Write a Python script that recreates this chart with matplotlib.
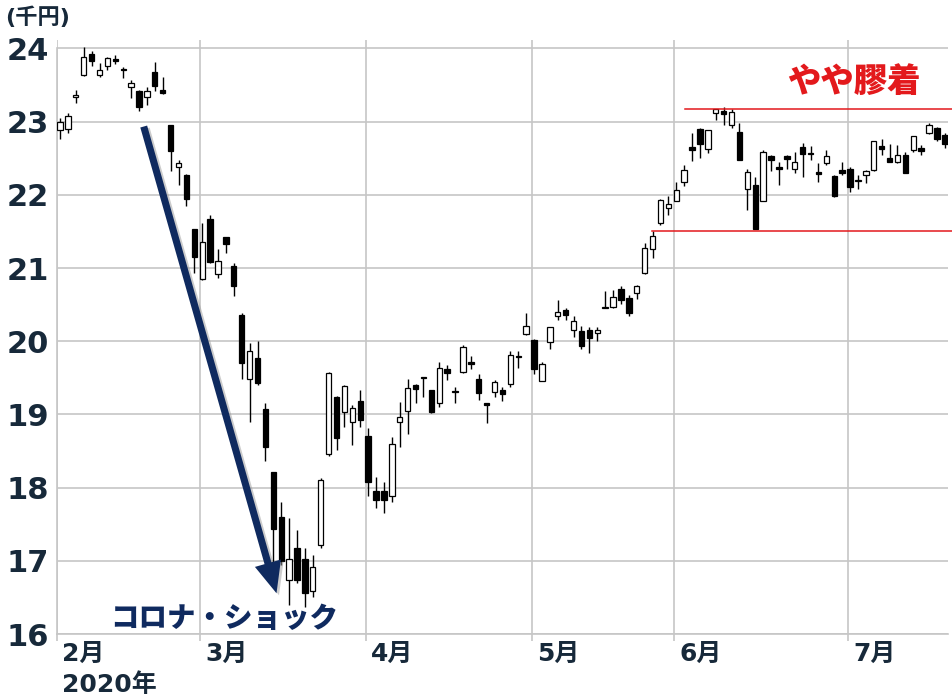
import matplotlib
matplotlib.use("Agg")
import matplotlib.pyplot as plt
from matplotlib.patches import FancyArrowPatch
from matplotlib.transforms import offset_copy
import numpy as np
import pandas as pd

plt.rcParams['font.family'] = ['DejaVu Sans', 'Noto Sans CJK JP']

# Japanese trading days, 2020-02-03 .. 2020-07-17
holidays = ['2020-02-11', '2020-02-24', '2020-03-20', '2020-04-29',
            '2020-05-04', '2020-05-05', '2020-05-06']
dates = pd.bdate_range('2020-02-03', '2020-07-17', freq='C', holidays=holidays)

# prices in thousand yen
opens = [22.88, 22.90, 23.34, 23.64, 23.92, 23.64, 23.76, 23.85, 23.72, 23.48,
         23.42, 23.34, 23.68, 23.43, 22.95, 22.38, 22.27, 21.53, 20.85, 21.67,
         20.92, 21.42, 21.03, 20.36, 19.49, 19.77, 19.08, 18.21, 17.60, 16.74,
         17.17, 17.02, 16.59, 17.22, 18.46, 19.24, 19.04, 18.89, 19.19, 18.71,
         17.95, 17.95, 17.88, 18.89, 19.05, 19.40, 19.51, 19.33, 19.16, 19.62,
         19.32, 19.58, 19.71, 19.49, 19.15, 19.31, 19.34, 19.42, 19.80, 20.10,
         20.02, 19.46, 19.99, 20.34, 20.43, 20.15, 20.14, 20.16, 20.11, 20.46,
         20.47, 20.71, 20.59, 20.66, 20.93, 21.26, 21.62, 21.82, 21.92, 22.18,
         22.66, 22.90, 22.62, 23.12, 23.15, 22.96, 22.86, 22.08, 22.14, 21.91,
         22.53, 22.38, 22.53, 22.35, 22.65, 22.57, 22.31, 22.43, 22.26, 22.34,
         22.36, 22.19, 22.27, 22.34, 22.67, 22.50, 22.45, 22.55, 22.61, 22.64,
         22.84, 22.91, 22.82]
highs = [23.05, 23.12, 23.43, 24.02, 23.96, 23.80, 23.89, 23.91, 23.75, 23.57,
         23.43, 23.48, 23.82, 23.61, 22.96, 22.48, 22.29, 21.54, 21.61, 21.73,
         21.26, 21.43, 21.07, 20.38, 19.97, 20.00, 19.15, 18.22, 17.81, 17.58,
         17.42, 17.17, 17.08, 18.13, 19.58, 19.25, 19.40, 19.13, 19.33, 18.81,
         18.15, 18.07, 18.69, 19.17, 19.48, 19.41, 19.51, 19.34, 19.72, 19.68,
         19.38, 19.95, 19.80, 19.55, 19.15, 19.47, 19.38, 19.86, 19.86, 20.38,
         20.03, 19.72, 20.20, 20.56, 20.46, 20.34, 20.21, 20.20, 20.20, 20.68,
         20.70, 20.75, 20.63, 20.77, 21.34, 21.50, 21.95, 21.98, 22.17, 22.41,
         22.84, 22.91, 22.89, 23.18, 23.20, 23.17, 22.98, 22.36, 22.25, 22.61,
         22.55, 22.45, 22.54, 22.59, 22.71, 22.67, 22.43, 22.61, 22.27, 22.45,
         22.38, 22.27, 22.34, 22.74, 22.76, 22.70, 22.68, 22.58, 22.80, 22.68,
         22.98, 22.93, 22.85]
lows = [22.77, 22.84, 23.25, 23.63, 23.76, 23.61, 23.71, 23.79, 23.59, 23.32,
        23.14, 23.23, 23.42, 23.38, 22.33, 22.14, 21.85, 20.93, 20.84, 21.07,
        20.87, 21.21, 20.62, 19.49, 18.90, 19.40, 18.36, 16.97, 16.94, 16.40,
        16.69, 16.37, 16.51, 17.18, 18.43, 18.52, 18.83, 18.58, 18.83, 17.88,
        17.72, 17.66, 17.81, 18.56, 18.73, 19.15, 19.24, 19.02, 19.10, 19.47,
        19.16, 19.56, 19.62, 19.20, 18.88, 19.24, 19.19, 19.38, 19.64, 20.09,
        19.55, 19.45, 19.90, 20.29, 20.29, 20.06, 19.90, 19.84, 20.01, 20.45,
        20.45, 20.51, 20.34, 20.58, 20.92, 21.14, 21.59, 21.73, 21.91, 22.12,
        22.46, 22.50, 22.57, 23.02, 22.95, 22.91, 22.48, 21.79, 21.54, 21.91,
        22.33, 22.14, 22.35, 22.30, 22.25, 22.48, 22.18, 22.41, 21.97, 22.27,
        22.04, 22.08, 22.16, 22.33, 22.55, 22.45, 22.44, 22.30, 22.58, 22.55,
        22.83, 22.74, 22.64]
closes = [22.99, 23.08, 23.36, 23.88, 23.83, 23.70, 23.87, 23.83, 23.71, 23.53,
          23.20, 23.42, 23.49, 23.39, 22.60, 22.43, 21.94, 21.15, 21.36, 21.08,
          21.10, 21.33, 20.76, 19.70, 19.87, 19.43, 18.56, 17.43, 17.00, 17.03,
          16.74, 16.56, 16.91, 18.10, 19.56, 18.68, 19.39, 19.09, 18.93, 18.07,
          17.83, 17.83, 18.59, 18.96, 19.36, 19.35, 19.50, 19.04, 19.64, 19.56,
          19.31, 19.92, 19.69, 19.29, 19.13, 19.44, 19.28, 19.81, 19.79, 20.21,
          19.62, 19.69, 20.19, 20.40, 20.36, 20.28, 19.93, 20.05, 20.15, 20.47,
          20.61, 20.56, 20.39, 20.76, 21.28, 21.44, 21.93, 21.88, 22.07, 22.34,
          22.61, 22.70, 22.88, 23.18, 23.11, 23.13, 22.48, 22.31, 21.54, 22.59,
          22.47, 22.35, 22.49, 22.45, 22.56, 22.56, 22.29, 22.53, 21.98, 22.30,
          22.11, 22.20, 22.32, 22.73, 22.62, 22.45, 22.55, 22.30, 22.80, 22.60,
          22.95, 22.77, 22.70]

range_top = 23.18
range_bottom = 21.50

text_color = '#17293a'
grid_color = '#c6c6c6'
navy = '#0f2a5f'
red = '#e3191c'

o = np.array(opens)
h = np.array(highs)
l = np.array(lows)
c = np.array(closes)
x = np.arange(len(dates))

fig = plt.figure(figsize=(9.52, 6.97), dpi=100)
ax = fig.add_axes([57 / 952, 63 / 697, 891 / 952, 594 / 697])
ax.set_xlim(-0.38, 112.4)
ax.set_ylim(16, 24.116)

# month boundaries
month_first = [i for i in range(len(dates)) if i == 0 or dates[i].month != dates[i - 1].month]
month_pos = [-0.38] + [i - 0.22 for i in month_first[1:]]
month_labels = [f'{dates[i].month}月' for i in month_first]

ax.set_yticks(range(16, 25))
ax.set_xticks(month_pos)
ax.set_xticklabels([])
ax.grid(True, color=grid_color, linewidth=1.2)
ax.set_axisbelow(True)
ax.tick_params(axis='y', length=0, pad=6, labelsize=22, labelcolor=text_color)
ax.tick_params(axis='x', length=5, width=1.2, color=grid_color)
for lab in ax.get_yticklabels():
    lab.set_fontweight('bold')
for s in ['top', 'right']:
    ax.spines[s].set_visible(False)
ax.spines['left'].set_color(grid_color)
ax.spines['left'].set_linewidth(1.2)
ax.spines['left'].set_bounds(16, 24)
ax.spines['bottom'].set_color(grid_color)
ax.spines['bottom'].set_linewidth(1.2)

# candles
ax.vlines(x, l, h, color='black', linewidth=1.0, zorder=2)
up = c >= o
body_bottom = np.minimum(o, c)
body_h = np.maximum(np.abs(c - o), 0.012)
ax.bar(x[up], body_h[up], bottom=body_bottom[up], width=0.68,
       color='white', edgecolor='black', linewidth=0.9, zorder=3)
ax.bar(x[~up], body_h[~up], bottom=body_bottom[~up], width=0.68,
       color='black', edgecolor='black', linewidth=0.9, zorder=3)

# range lines
ax.plot([79.1, 113], [range_top, range_top], color=red, linewidth=1.1, zorder=4, clip_on=False)
ax.plot([74.9, 113], [range_bottom, range_bottom], color=red, linewidth=1.1, zorder=4, clip_on=False)

# arrow with a soft shadow
arrow_style = 'simple,head_length=1.5,head_width=1.3,tail_width=0.34'
shadow = FancyArrowPatch((10.5, 22.97), (27.5, 16.52), arrowstyle=arrow_style,
                         mutation_scale=15, color='#9a9a9a', alpha=0.5, linewidth=0,
                         transform=offset_copy(ax.transData, fig, x=2.5, y=-2, units='dots'),
                         zorder=5)
ax.add_patch(shadow)
arrow = FancyArrowPatch((10.5, 22.97), (27.5, 16.52), arrowstyle=arrow_style,
                        mutation_scale=15, color=navy, linewidth=0, zorder=6)
ax.add_patch(arrow)

ax.text(6.3, 16.21, 'コロナ・ショック', family='Noto Sans CJK JP', fontweight='heavy',
        fontsize=20.5, color=navy, ha='left', va='center', zorder=7)
ax.text(92.0, 23.55, 'やや膠着', family='Noto Sans CJK JP', fontweight='heavy',
        fontsize=24, color=red, ha='left', va='center', zorder=7)

# month labels
for pos, lab in zip(month_pos, month_labels):
    ax.annotate(lab, xy=(pos, 0), xycoords=('data', 'axes fraction'),
                xytext=(3.5, -5.5), textcoords='offset points', ha='left', va='top',
                fontsize=18, fontweight='bold', color=text_color, annotation_clip=False)
ax.annotate(f'{dates[0].year}年', xy=(month_pos[0], 0), xycoords=('data', 'axes fraction'),
            xytext=(3.5, -28), textcoords='offset points', ha='left', va='top',
            fontsize=18, fontweight='bold', color=text_color, annotation_clip=False)

fig.text(5 / 952, 1 - 17 / 697, '(千円)', fontsize=16, fontweight='bold',
         color=text_color, ha='left', va='center')

fig.savefig('out.png', dpi=100)
